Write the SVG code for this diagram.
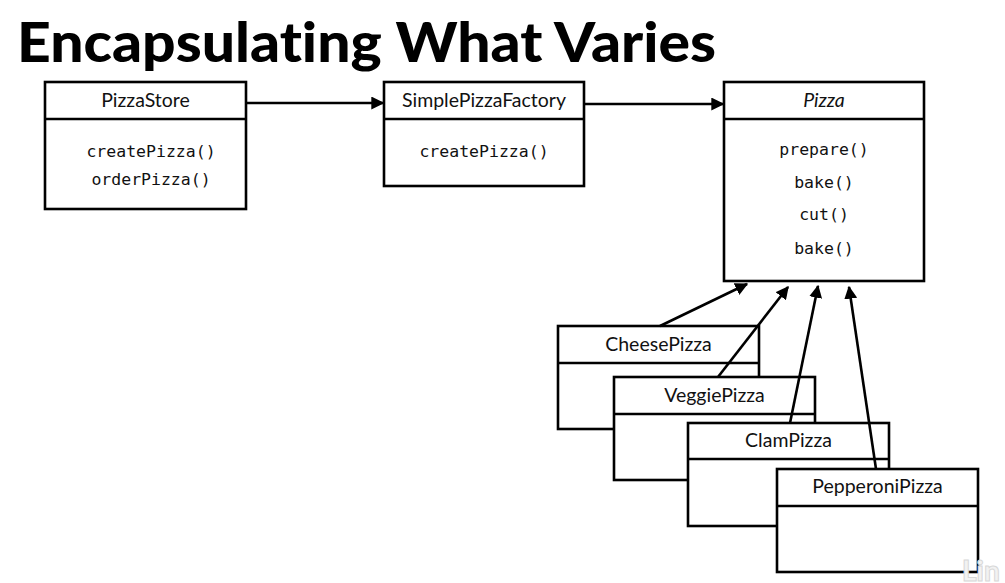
<svg xmlns="http://www.w3.org/2000/svg" width="1005" height="583" viewBox="0 0 1005 583">
<defs>
<style>
.box{fill:#fff;stroke:#000;stroke-width:2.6}
.div{stroke:#000;stroke-width:2.6}
.hdr{font-family:Lato,"Liberation Sans",sans-serif;font-size:19.5px;fill:#111;text-anchor:middle}
.m{font-family:"DejaVu Sans Mono","Liberation Mono",monospace;font-size:16.5px;fill:#111;text-anchor:middle}
.ln{stroke:#000;stroke-width:2.6;fill:none;marker-end:url(#ah)}
</style>
<marker id="ah" viewBox="0 0 10 10" refX="9" refY="5" markerWidth="5" markerHeight="5" orient="auto" markerUnits="strokeWidth">
<path d="M0,0 L10,5 L0,10 z" fill="#000"/>
</marker>
</defs>
<rect width="1005" height="583" fill="#fff"/>
<text x="17" y="62" font-family="Lato,'Liberation Sans',sans-serif" font-weight="900" font-size="55" textLength="699" lengthAdjust="spacingAndGlyphs" style="font-variant-ligatures:none" fill="#000">Encapsulating What Varies</text>

<g id="PizzaStore">
<rect class="box" x="45" y="82" width="201" height="127"/>
<line class="div" x1="45" y1="119" x2="246" y2="119"/>
<text class="hdr" x="145.5" y="107">PizzaStore</text>
<text class="m" x="151" y="157">createPizza()</text>
<text class="m" x="151" y="185">orderPizza()</text>
</g>

<g id="SimplePizzaFactory">
<rect class="box" x="384" y="82" width="200" height="104"/>
<line class="div" x1="384" y1="119" x2="584" y2="119"/>
<text class="hdr" x="484" y="107">SimplePizzaFactory</text>
<text class="m" x="484" y="157">createPizza()</text>
</g>

<g id="Pizza">
<rect class="box" x="724" y="82" width="200" height="199"/>
<line class="div" x1="724" y1="119" x2="924" y2="119"/>
<text class="hdr" x="824" y="107" font-style="italic">Pizza</text>
<text class="m" x="824" y="155">prepare()</text>
<text class="m" x="824" y="188">bake()</text>
<text class="m" x="824" y="220">cut()</text>
<text class="m" x="824" y="254">bake()</text>
</g>

<g id="CheesePizza">
<rect class="box" x="558" y="326" width="201" height="103"/>
<line class="div" x1="558" y1="363" x2="759" y2="363"/>
<text class="hdr" x="658.5" y="351">CheesePizza</text>
</g>

<g id="VeggiePizza">
<rect class="box" x="614" y="377" width="201" height="103"/>
<line class="div" x1="614" y1="414" x2="815" y2="414"/>
<text class="hdr" x="714.5" y="402">VeggiePizza</text>
</g>

<g id="ClamPizza">
<rect class="box" x="688" y="423" width="201" height="103"/>
<line class="div" x1="688" y1="459" x2="889" y2="459"/>
<text class="hdr" x="788.5" y="447">ClamPizza</text>
</g>

<g id="PepperoniPizza">
<rect class="box" x="777" y="469" width="201" height="103"/>
<line class="div" x1="777" y1="506" x2="978" y2="506"/>
<text class="hdr" x="877.5" y="493">PepperoniPizza</text>
</g>

<g id="connectors">
<line class="ln" x1="246" y1="103" x2="383" y2="103"/>
<line class="ln" x1="584" y1="104" x2="723" y2="104"/>
<line class="ln" x1="660" y1="326" x2="747" y2="284"/>
<line class="ln" x1="718" y1="377" x2="788" y2="287"/>
<line class="ln" x1="790" y1="423" x2="818" y2="286"/>
<line class="ln" x1="876" y1="469" x2="849" y2="287"/>
</g>

<text x="962" y="581" font-family="Lato,'Liberation Sans',sans-serif" font-weight="900" font-size="28" fill="#f2f2f2" stroke="#d8d8d8" stroke-width="1">Lin</text>
</svg>
